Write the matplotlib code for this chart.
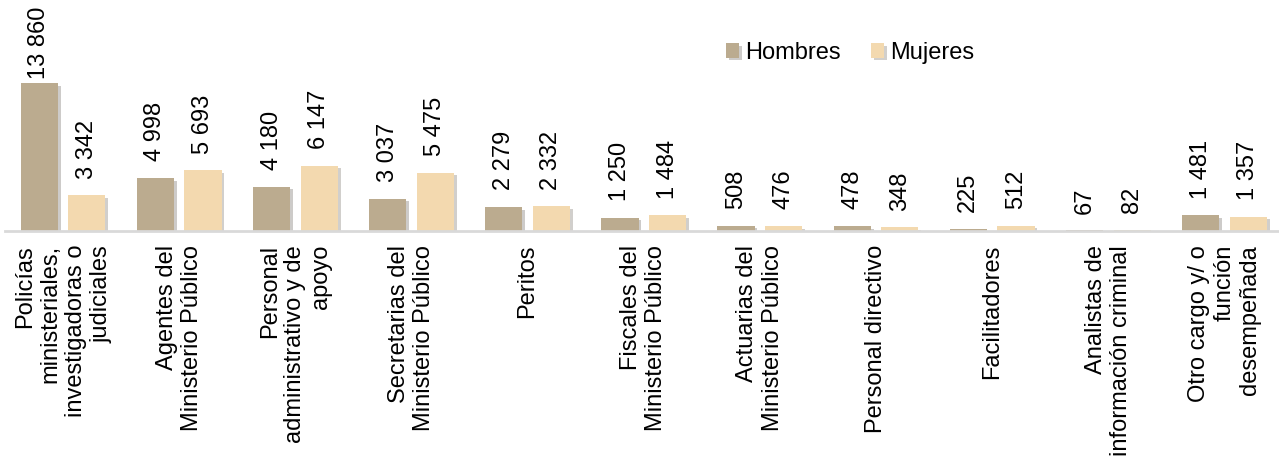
import numpy as np
import matplotlib
matplotlib.use('Agg')
import matplotlib.pyplot as plt
import matplotlib.patheffects as pe

plt.rcParams['font.family'] = ['Liberation Sans', 'DejaVu Sans']

categories = [
    'Policías\nministeriales,\ninvestigadoras o\njudiciales',
    'Agentes del\nMinisterio Público',
    'Personal\nadministrativo y de\napoyo',
    'Secretarias del\nMinisterio Público',
    'Peritos',
    'Fiscales del\nMinisterio Público',
    'Actuarias del\nMinisterio Público',
    'Personal directivo',
    'Facilitadores',
    'Analistas de\ninformación criminal',
    'Otro cargo y/ o\nfunción\ndesempeñada',
]
hombres = [13860, 4998, 4180, 3037, 2279, 1250, 508, 478, 225, 67, 1481]
mujeres = [3342, 5693, 6147, 5475, 2332, 1484, 476, 348, 512, 82, 1357]

col_h = '#BBAB8F'
col_m = '#F3D9AF'
fs = 17

fig = plt.figure(figsize=(12.79, 4.58), dpi=100)
ax = fig.add_axes([5 / 1279, 1 - 231 / 458, 1 - 5 / 1279, 231 / 458])

x = np.arange(len(categories))
width = 0.32
off = 0.205
shadow = [pe.SimplePatchShadow(offset=(2, -2), alpha=0.25), pe.Normal()]

bh = ax.bar(x - off, hombres, width, color=col_h, label='Hombres', path_effects=shadow)
bm = ax.bar(x + off, mujeres, width, color=col_m, label='Mujeres', path_effects=shadow)

top = max(hombres + mujeres)


def fmt(v):
    return f'{v:,}'.replace(',', ' ')


for bars, vals in ((bh, hombres), (bm, mujeres)):
    for b, v in zip(bars, vals):
        pad = 3 if v == top else 12
        ax.annotate(fmt(v), (b.get_x() + b.get_width() / 2, v),
                    xytext=(0, pad), textcoords='offset points',
                    rotation=90, ha='center', va='bottom', fontsize=fs)

ax.set_xlim(-0.5, 10.47)
ax.set_ylim(0, 21700)
ax.set_xticks(x)
ax.set_xticklabels(categories, rotation=90, fontsize=fs, ha='center', va='top',
                   multialignment='right', linespacing=1.2)
ax.tick_params(axis='x', length=0, pad=10)
ax.set_yticks([])
for s in ['top', 'right', 'left']:
    ax.spines[s].set_visible(False)
ax.spines['bottom'].set_color('#D9D9D9')
ax.spines['bottom'].set_linewidth(2)
ax.patch.set_alpha(0)

ax.legend(loc='upper left', bbox_to_anchor=(0.551, 0.955), bbox_transform=fig.transFigure,
          ncol=2, frameon=False, fontsize=fs, handlelength=0.55, handleheight=0.55,
          handletextpad=0.25, columnspacing=1.3)

fig.savefig('out.png', dpi=100)
plt.close(fig)
